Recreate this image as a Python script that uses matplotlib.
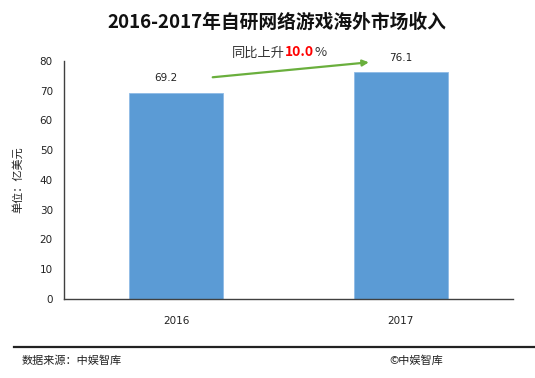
import matplotlib
matplotlib.use('Agg')
import matplotlib.pyplot as plt
from matplotlib.lines import Line2D

plt.rcParams['font.family'] = ['Noto Sans CJK SC', 'DejaVu Sans']

years = ['2016', '2017']
revenue = [69.2, 76.1]
growth = '10.0'

fig = plt.figure(figsize=(5.35, 3.78), dpi=100)
ax = fig.add_axes([0.1196, 0.209, 0.8394, 0.630])

num_font = ['DejaVu Sans']

x = range(len(years))
bars = ax.bar(x, revenue, width=0.42, color='#5b9bd5', edgecolor='#8fbbe6', linewidth=0.6, zorder=2)
for xi, v in zip(x, revenue):
    ax.text(xi - 0.045 if xi == 0 else xi, v + 3.2, f'{v:.1f}', ha='center', va='bottom',
            fontsize=7.5, color='#222222', family=num_font)

ax.set_xlim(-0.5, 1.5)
ax.set_ylim(0, 80)
ax.set_yticks(range(0, 81, 10))
ax.set_xticks(list(x))
ax.set_xticklabels(years)
ax.tick_params(axis='both', length=0, labelsize=7.5, colors='#222222')
ax.tick_params(axis='x', pad=12)
ax.tick_params(axis='y', pad=8)
for lab in ax.get_xticklabels() + ax.get_yticklabels():
    lab.set_family(num_font)
for s in ['top', 'right']:
    ax.spines[s].set_visible(False)
for s in ['left', 'bottom']:
    ax.spines[s].set_color('#404040')
    ax.spines[s].set_linewidth(1.0)

ax.set_ylabel('单位：亿美元', fontsize=8, color='#222222', labelpad=12)

# growth arrow
ax.annotate('', xy=(0.87, 79.6), xytext=(0.15, 74.4),
            arrowprops=dict(arrowstyle='-|>', color='#6aaf3d', lw=1.6, mutation_scale=9),
            annotation_clip=False)

# growth text in pieces
fig.canvas.draw()
r = fig.canvas.get_renderer()
t1 = fig.text(0.434, 0.851, '同比上升', fontsize=9.5, color='#333333', va='baseline')
bb = t1.get_window_extent(r)
t2 = fig.text(bb.x1 / fig.bbox.width, 0.851, growth, fontsize=10, color='#ff0000',
              fontweight='bold', va='baseline')
bb2 = t2.get_window_extent(r)
fig.text(bb2.x1 / fig.bbox.width, 0.851, '%', fontsize=9.5, color='#333333', va='baseline')

fig.suptitle('2016-2017年自研网络游戏海外市场收入', x=0.518, y=0.965, fontsize=13.5,
             fontweight='bold', color='#111111')

fig.add_artist(Line2D([0.026, 1.0], [0.082, 0.082], color='#222222', lw=1.6))
fig.text(0.041, 0.045, '数据来源：中娱智库', fontsize=8, color='#222222', va='center')
fig.text(0.727, 0.045, '©中娱智库', fontsize=8, color='#222222', va='center')

fig.savefig('out.png', dpi=100)
